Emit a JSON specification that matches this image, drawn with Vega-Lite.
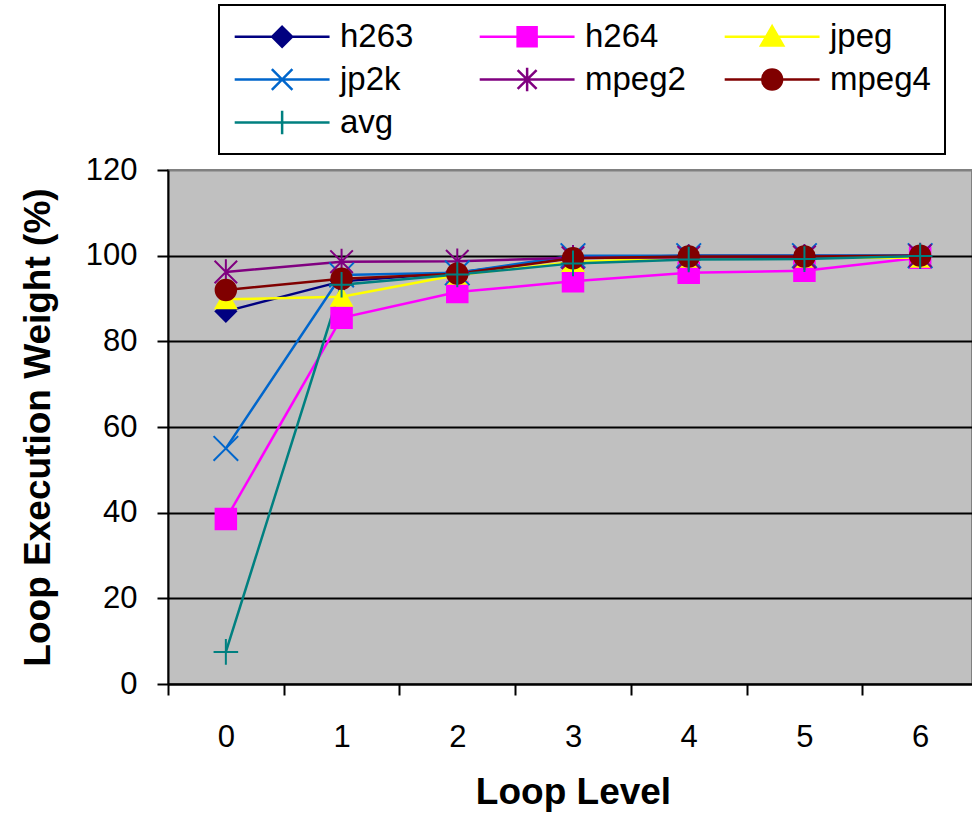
{
  "$schema": "https://vega.github.io/schema/vega-lite/v6.json",
  "width": 804,
  "height": 514,
  "autosize": {"type": "none"},
  "padding": {"left": 168, "top": 170, "right": 0, "bottom": 133},
  "background": "white",
  "data": {
    "values": [
      {"series": "h263", "level": 0, "weight": 87},
      {"series": "h263", "level": 1, "weight": 94},
      {"series": "h263", "level": 2, "weight": 96},
      {"series": "h263", "level": 3, "weight": 99.5},
      {"series": "h263", "level": 4, "weight": 100},
      {"series": "h263", "level": 5, "weight": 100},
      {"series": "h263", "level": 6, "weight": 100},
      {"series": "h264", "level": 0, "weight": 38.5},
      {"series": "h264", "level": 1, "weight": 85.5},
      {"series": "h264", "level": 2, "weight": 91.5},
      {"series": "h264", "level": 3, "weight": 94},
      {"series": "h264", "level": 4, "weight": 96},
      {"series": "h264", "level": 5, "weight": 96.5},
      {"series": "h264", "level": 6, "weight": 99.5},
      {"series": "jpeg", "level": 0, "weight": 89.8},
      {"series": "jpeg", "level": 1, "weight": 90.4},
      {"series": "jpeg", "level": 2, "weight": 95.5},
      {"series": "jpeg", "level": 3, "weight": 98.5},
      {"series": "jpeg", "level": 4, "weight": 99.5},
      {"series": "jpeg", "level": 5, "weight": 99.5},
      {"series": "jpeg", "level": 6, "weight": 99.5},
      {"series": "jp2k", "level": 0, "weight": 55},
      {"series": "jp2k", "level": 1, "weight": 95.5},
      {"series": "jp2k", "level": 2, "weight": 96},
      {"series": "jp2k", "level": 3, "weight": 100},
      {"series": "jp2k", "level": 4, "weight": 100},
      {"series": "jp2k", "level": 5, "weight": 100},
      {"series": "jp2k", "level": 6, "weight": 100},
      {"series": "mpeg2", "level": 0, "weight": 96.2},
      {"series": "mpeg2", "level": 1, "weight": 98.6},
      {"series": "mpeg2", "level": 2, "weight": 98.7},
      {"series": "mpeg2", "level": 3, "weight": 99.5},
      {"series": "mpeg2", "level": 4, "weight": 99.6},
      {"series": "mpeg2", "level": 5, "weight": 99.7},
      {"series": "mpeg2", "level": 6, "weight": 100},
      {"series": "mpeg4", "level": 0, "weight": 92},
      {"series": "mpeg4", "level": 1, "weight": 94.6},
      {"series": "mpeg4", "level": 2, "weight": 95.8},
      {"series": "mpeg4", "level": 3, "weight": 99.4},
      {"series": "mpeg4", "level": 4, "weight": 99.8},
      {"series": "mpeg4", "level": 5, "weight": 99.8},
      {"series": "mpeg4", "level": 6, "weight": 100},
      {"series": "avg", "level": 0, "weight": 7.5},
      {"series": "avg", "level": 1, "weight": 93.2},
      {"series": "avg", "level": 2, "weight": 95.6},
      {"series": "avg", "level": 3, "weight": 98.2},
      {"series": "avg", "level": 4, "weight": 99.1},
      {"series": "avg", "level": 5, "weight": 99.2},
      {"series": "avg", "level": 6, "weight": 99.9}
    ]
  },
  "encoding": {
    "x": {
      "field": "level",
      "type": "ordinal",
      "scale": {"type": "band", "range": [0, 810], "paddingInner": 0, "paddingOuter": 0},
      "axis": {
        "title": "Loop Level",
        "labelAngle": 0,
        "tickBand": "extent",
        "tickSize": 11,
        "tickWidth": 2,
        "tickColor": "black",
        "domainColor": "black",
        "domainWidth": 2,
        "labelFontSize": 31,
        "labelPadding": 27,
        "labelColor": "black",
        "titleFontSize": 37,
        "titleFontWeight": "bold",
        "titleColor": "black",
        "titlePadding": 22,
        "grid": false
      }
    },
    "y": {
      "field": "weight",
      "type": "quantitative",
      "scale": {"domain": [0, 120], "nice": false, "zero": true},
      "axis": {
        "title": "Loop Execution Weight (%)",
        "values": [0, 20, 40, 60, 80, 100, 120],
        "grid": true,
        "gridColor": {"condition": {"test": "datum.value === 120", "value": "#808080"}, "value": "black"},
        "gridWidth": 2,
        "gridOpacity": 1,
        "tickSize": 11,
        "tickWidth": 2,
        "tickColor": "black",
        "domainColor": "black",
        "domainWidth": 2,
        "labelFontSize": 31,
        "labelPadding": 20,
        "labelColor": "black",
        "titleFontSize": 37,
        "titleFontWeight": "bold",
        "titleColor": "black",
        "titlePadding": 28
      }
    }
  },
  "layer": [
    {
      "mark": {"type": "line", "strokeWidth": 2.5},
      "encoding": {
        "color": {
          "field": "series",
          "type": "nominal",
          "scale": {
            "domain": ["h263", "h264", "jpeg", "jp2k", "mpeg2", "mpeg4", "avg"],
            "range": ["#000080", "#FF00FF", "#FFFF00", "#0066CC", "#800080", "#800000", "#008080"]
          },
          "legend": null
        }
      }
    },
    {
      "mark": {"type": "point", "opacity": 1, "strokeWidth": 2, "size": 420},
      "encoding": {
        "fill": {
          "field": "series",
          "type": "nominal",
          "scale": {
            "domain": ["h263", "h264", "jpeg", "jp2k", "mpeg2", "mpeg4", "avg"],
            "range": ["#000080", "#FF00FF", "#FFFF00", "transparent", "transparent", "#800000", "transparent"]
          },
          "legend": null
        },
        "stroke": {
          "field": "series",
          "type": "nominal",
          "scale": {
            "domain": ["h263", "h264", "jpeg", "jp2k", "mpeg2", "mpeg4", "avg"],
            "range": ["#000080", "#FF00FF", "#FFFF00", "#0066CC", "#800080", "#800000", "#008080"]
          },
          "legend": null
        },
        "shape": {
          "field": "series",
          "type": "nominal",
          "scale": {
            "domain": ["h263", "h264", "jpeg", "jp2k", "mpeg2", "mpeg4", "avg"],
            "range": [
              "diamond",
              "square",
              "triangle-up",
              "M-1.2,-1.2L1.2,1.2M-1.2,1.2L1.2,-1.2",
              "M0,-1.25V1.25M-1.1,-1.1L1.1,1.1M-1.1,1.1L1.1,-1.1",
              "circle",
              "M-1.2,0H1.2M0,-1.25V1.25"
            ]
          },
          "legend": null
        }
      }
    },
    {
      "transform": [{"filter": "datum.weight > 1000"}],
      "mark": {"type": "point", "opacity": 1, "strokeWidth": 2.5},
      "encoding": {
        "fill": {
          "field": "series",
          "type": "nominal",
          "title": null,
          "scale": {
            "domain": ["h263", "h264", "jpeg", "jp2k", "mpeg2", "mpeg4", "avg"],
            "range": ["#000080", "#FF00FF", "#FFFF00", "transparent", "transparent", "#800000", "transparent"]
          }
        },
        "stroke": {
          "field": "series",
          "type": "nominal",
          "title": null,
          "scale": {
            "domain": ["h263", "h264", "jpeg", "jp2k", "mpeg2", "mpeg4", "avg"],
            "range": ["#000080", "#FF00FF", "#FFFF00", "#0066CC", "#800080", "#800000", "#008080"]
          }
        },
        "shape": {
          "field": "series",
          "type": "nominal",
          "title": null,
          "scale": {
            "domain": ["h263", "h264", "jpeg", "jp2k", "mpeg2", "mpeg4", "avg"],
            "range": [
              "M-1,0H5M2,-0.63L2.63,0L2,0.63L1.37,0Z",
              "M-1,0H5M1.4,-0.6H2.6V0.6H1.4Z",
              "M-1,0H5M2,-0.66L2.7,0.56H1.3Z",
              "M-1,0H5M1.35,-0.65L2.65,0.65M1.35,0.65L2.65,-0.65",
              "M-1,0H5M2,-0.75V0.75M1.4,-0.6L2.6,0.6M1.4,0.6L2.6,-0.6",
              "M-1,0H5M2.63,0A0.63,0.63,0,1,1,1.37,0A0.63,0.63,0,1,1,2.63,0Z",
              "M-1,0H5M2,-0.75V0.75"
            ]
          }
        }
      }
    }
  ],
  "resolve": {
    "scale": {"fill": "independent", "stroke": "independent", "shape": "independent"},
    "legend": {"fill": "independent", "stroke": "independent", "shape": "independent"}
  },
  "config": {
    "font": "Liberation Sans",
    "view": {"fill": "#C0C0C0", "stroke": "#808080", "strokeWidth": 2},
    "legend": {
      "orient": "none",
      "direction": "horizontal",
      "legendX": 51,
      "legendY": -165,
      "columns": 3,
      "gridAlign": "all",
      "symbolSize": 1000,
      "symbolStrokeWidth": 2.5,
      "symbolOpacity": 1,
      "labelFont": "Liberation Sans",
      "labelFontSize": 33,
      "labelColor": "black",
      "labelOffset": 72,
      "labelLimit": 300,
      "columnPadding": 33,
      "rowPadding": 8,
      "padding": 14,
      "strokeColor": "black",
      "strokeWidth": 2,
      "fillColor": "white",
      "cornerRadius": 0
    }
  }
}
